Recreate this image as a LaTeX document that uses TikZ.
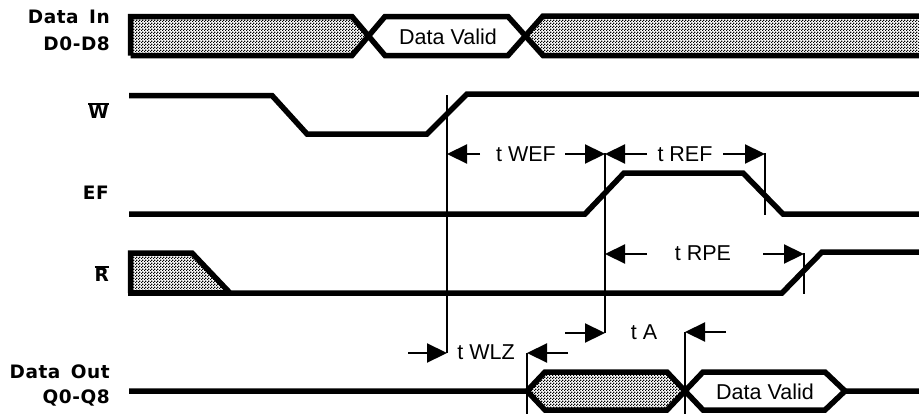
\documentclass[tikz,border=0pt]{standalone}
\usepackage{fontspec}
\setmainfont{Liberation Sans}
\newfontfamily\sigfont[LetterSpace=3,WordSpace=1.5]{DejaVu Sans Bold}
\usetikzlibrary{arrows.meta,patterns}
\pgfdeclarepatternformonly{dither}{\pgfqpoint{0pt}{0pt}}{\pgfqpoint{3pt}{3pt}}{\pgfqpoint{3pt}{3pt}}{%
  \pgfpathrectangle{\pgfqpoint{0pt}{0pt}}{\pgfqpoint{1.5pt}{1.5pt}}%
  \pgfpathrectangle{\pgfqpoint{1.5pt}{1.5pt}}{\pgfqpoint{1.5pt}{1.5pt}}%
  \pgfusepath{fill}}
\newcommand{\barred}[1]{\vbox{\hrule height 1.5pt\kern 0.8pt\hbox{#1}}}
\tikzset{
  sig/.style={line width=5.5pt,line join=miter,miter limit=3},
  hatchfill/.style={pattern=dither,pattern color=black},
  mark line/.style={line width=2.5pt},
  dim/.style={line width=2.2pt,-{Triangle[length=20pt,width=19pt]},shorten >=0pt},
  siglabel/.style={anchor=east,inner sep=0pt,font=\sigfont\fontsize{18.5}{18.5}\selectfont},
  timelabel/.style={inner sep=0pt,font=\fontsize{21.5}{21.5}\selectfont},
  validlabel/.style={inner sep=0pt,font=\fontsize{21.5}{21.5}\selectfont},
}
\begin{document}
\begin{tikzpicture}[x=1pt,y=-1pt]
\path[use as bounding box] (0,0) rectangle (919,415);
% labels
\node[siglabel] (lDataIn) at (110,17) {Data In};
\node[siglabel] (lD) at (110,44) {D0-D8};
\node[siglabel] (lW) at (109,111) {\barred{W}};
\node[siglabel] (lEF) at (109,193) {EF};
\node[siglabel] (lR) at (109,274) {\barred{R}};
\node[siglabel] (lDataOut) at (110,372) {Data Out};
\node[siglabel] (lQ) at (110,398) {Q0-Q8};
% hatched regions
\fill[hatchfill] (131,17) -- (352,17) -- (367,36) -- (352,55.5) -- (131,55.5) -- cycle;
\fill[hatchfill] (527,36) -- (543,16) -- (919,16) -- (919,55.5) -- (543,55.5) -- cycle;
\fill[hatchfill] (130.5,253) -- (192,253) -- (228,293) -- (130.5,293) -- cycle;
\fill[hatchfill] (527,391) -- (545,372) -- (667,372) -- (685,391) -- (667,410) -- (545,410) -- cycle;
% Data In bus
\draw[sig] (130.5,55.5) -- (130.5,16.5) -- (352,16.5) -- (385,55.5) -- (508,55.5) -- (543,16) -- (919,16);
\draw[sig] (130.5,55.5) -- (352,55.5) -- (385,16.5) -- (508,16.5) -- (543,55.5) -- (919,55.5);
% W
\draw[sig] (129,95.5) -- (272,95.5) -- (307,134) -- (427,134) -- (467,94) -- (919,94);
% EF
\draw[sig] (129,214) -- (585,214) -- (624,173) -- (743,173) -- (783,214) -- (919,214);
% R
\draw[sig] (130.5,293) -- (130.5,253) -- (192,253) -- (230,293) -- (782,293) -- (822,252) -- (919,252);
\draw[sig] (128,293) -- (230,293);
% Data Out bus
\draw[sig] (129,391) -- (527,391) -- (545,372) -- (667,372) -- (703,410) -- (825,410) -- (845,391) -- (919,391);
\draw[sig] (527,391) -- (545,410) -- (667,410) -- (703,372) -- (825,372) -- (845,391);
% reference coordinates
\coordinate (wTop) at (447,95);
\coordinate (wBot) at (447,353);
\coordinate (eTop) at (605,153);
\coordinate (eBot) at (605,333);
\coordinate (fTop) at (765,153);
\coordinate (fBot) at (765,215);
\coordinate (gTop) at (804,253);
\coordinate (gBot) at (804,294);
\coordinate (zTop) at (527,353);
\coordinate (zBot) at (527,414);
\coordinate (aTop) at (685,332);
\coordinate (aBot) at (685,414);
\draw[mark line] (wTop) -- (wBot);
\draw[mark line] (eTop) -- (eBot);
\draw[mark line] (fTop) -- (fBot);
\draw[mark line] (gTop) -- (gBot);
\draw[mark line] (zTop) -- (zBot);
\draw[mark line] (aTop) -- (aBot);
% timing labels
\node[timelabel] (tWEF) at (526,154) {t WEF};
\node[timelabel] (tREF) at (685,154) {t REF};
\node[timelabel] (tRPE) at (703,253) {t RPE};
\node[timelabel] (tA) at (644,332) {t A};
\node[timelabel] (tWLZ) at (486,352) {t WLZ};
\node[validlabel] (dv1) at (448,37) {Data Valid};
\node[validlabel] (dv2) at (765,392) {Data Valid};
% dimension arrows
\coordinate (a1) at (480,154);
\coordinate (a2) at (565,154);
\coordinate (a3) at (647,154);
\coordinate (a4) at (723,154);
\coordinate (a5) at (647,254);
\coordinate (a6) at (763,254);
\coordinate (a7) at (565,333);
\coordinate (a8) at (726,332);
\coordinate (a9) at (408,353);
\coordinate (a10) at (568,353);
\draw[dim] (a1) -- (wTop |- a1);
\draw[dim] (a2) -- (eTop |- a2);
\draw[dim] (a3) -- (eTop |- a3);
\draw[dim] (a4) -- (fTop |- a4);
\draw[dim] (a5) -- (eTop |- a5);
\draw[dim] (a6) -- (gTop |- a6);
\draw[dim] (a7) -- (eBot);
\draw[dim] (a8) -- (aTop);
\draw[dim] (a9) -- (wBot);
\draw[dim] (a10) -- (zTop);
\end{tikzpicture}
\end{document}
